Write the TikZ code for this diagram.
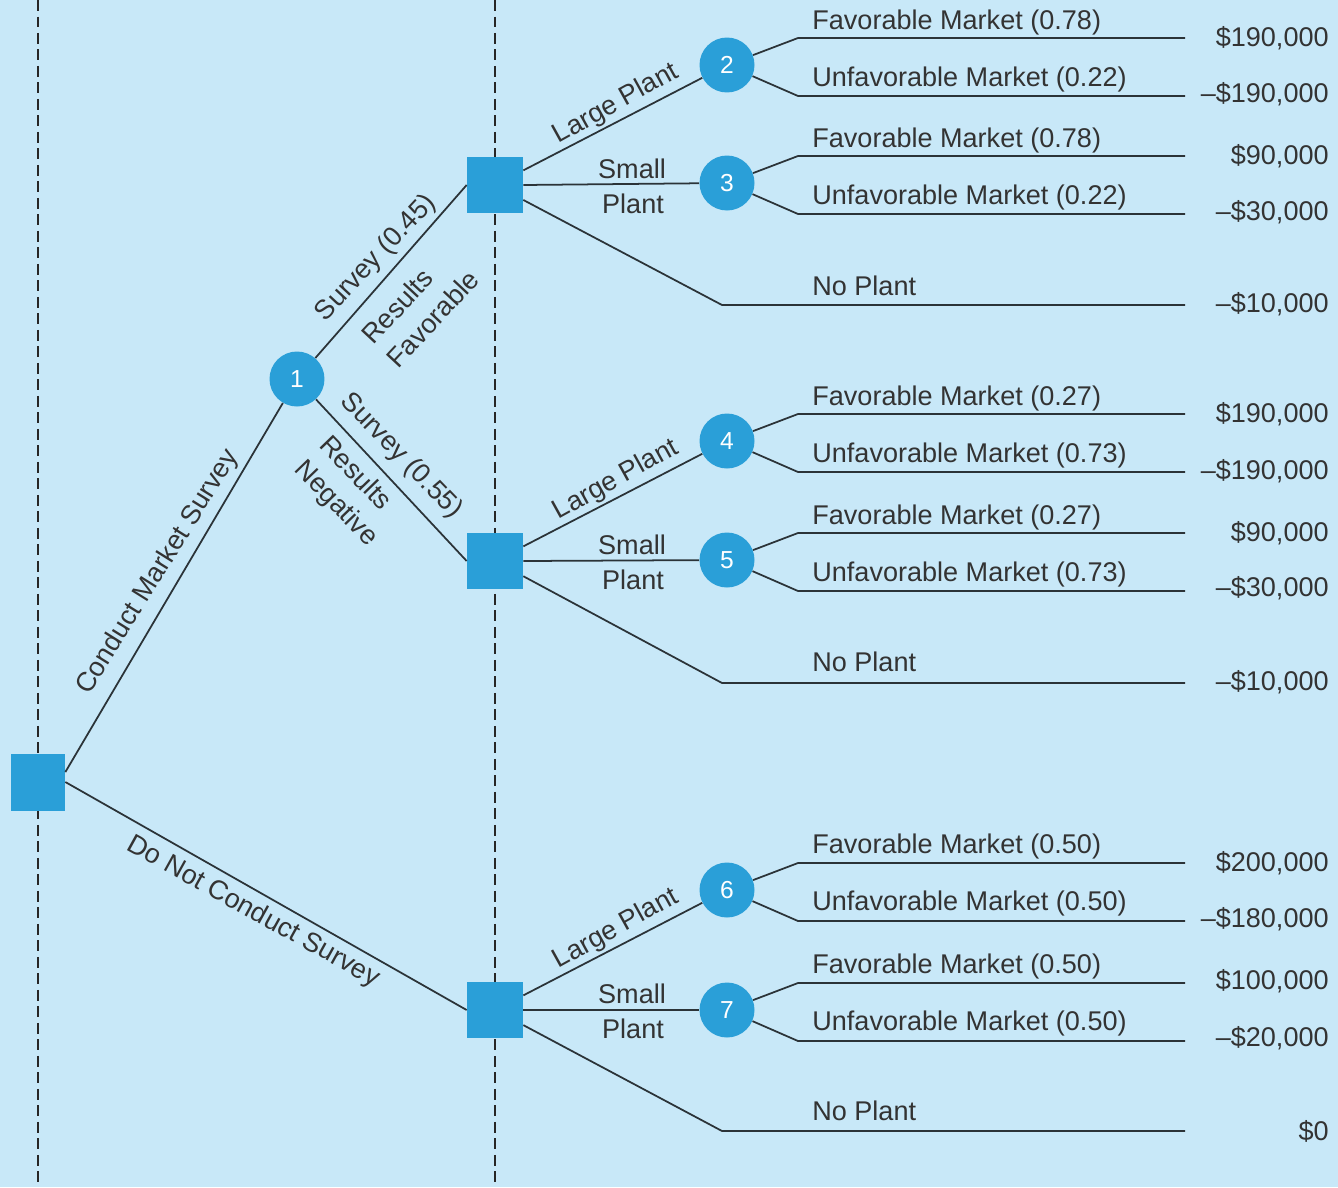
\documentclass[tikz,border=0pt]{standalone}
\usepackage{fontspec}
\setmainfont{Liberation Sans}
\definecolor{bgblue}{HTML}{C8E8F8}
\definecolor{nodeblue}{HTML}{2A9FD8}
\definecolor{ink}{HTML}{2B3338}
\definecolor{txt}{HTML}{333333}

\begin{document}
\begin{tikzpicture}[x=0.02cm,y=-0.02cm,
  decision/.style={rectangle, fill=nodeblue, minimum width=1.12cm, minimum height=1.12cm, inner sep=0pt},
  chance/.style={circle, fill=nodeblue, minimum size=1.1cm, inner sep=0pt, text=white,
                 font=\fontsize{14}{16}\selectfont},
  branch/.style={draw=ink, line width=1pt},
  stage/.style={draw=black!85, line width=1.2pt, dash pattern=on 0.22cm off 0.11cm},
  lbl/.style={text=txt, font=\fontsize{15.4}{19.5}\selectfont, inner sep=0pt},
  mkt/.style={lbl, anchor=base west},
  pay/.style={lbl, anchor=base east},
]
% background and frame
\fill[bgblue] (0,0) rectangle (1338,1187);
\useasboundingbox (0,0) rectangle (1338,1187);

% stage separators
\coordinate (s1t) at (38,0);   \coordinate (s1b) at (38,1187);
\coordinate (s2t) at (495,0);  \coordinate (s2b) at (495,1187);
\draw[stage] (s1t) -- (s1b);
\draw[stage] (s2t) -- (s2b);

% decision and chance nodes
\node[decision, minimum width=1.08cm, minimum height=1.14cm] (root) at (38,782) {};
\node[chance] (c1) at (297,379) {1};
\node[decision] (d1) at (495,185) {};
\node[decision] (d2) at (495,561) {};
\node[decision] (d3) at (495,1010) {};
\node[chance] (c2) at (727,65) {2};
\node[chance] (c3) at (727,183) {3};
\node[chance] (c4) at (727,441) {4};
\node[chance] (c5) at (727,560) {5};
\node[chance] (c6) at (727,890) {6};
\node[chance] (c7) at (727,1010) {7};

% first stage
\draw[branch] (root.20) -- (c1);
\draw[branch] (root.east) -- (d3.west);
\draw[branch] (c1) -- (d1.west);
\draw[branch] (c1) -- (d2.west);

% plant decisions
\foreach \d/\a/\b/\y in {1/2/3/305, 2/4/5/683, 3/6/7/1131}{
  \coordinate (np\d) at (722,\y);
  \coordinate (npe\d) at (1185,\y);
  \draw[branch] (d\d) -- (c\a);
  \draw[branch] (d\d.east) -- (c\b);
  \draw[branch] (d\d) -- (np\d) -- (npe\d);
}

% market outcomes
\foreach \k/\cy in {2/65, 3/183, 4/441, 5/560, 6/890, 7/1010}{
  \coordinate (f\k) at (798,\cy-27);
  \coordinate (fe\k) at (1185,\cy-27);
  \coordinate (u\k) at (798,\cy+31);
  \coordinate (ue\k) at (1185,\cy+31);
  \draw[branch] (c\k) -- (f\k) -- (fe\k);
  \draw[branch] (c\k) -- (u\k) -- (ue\k);
}

% branch labels, first stage
\node[lbl, rotate=58] (lcms) at (158,572) {Conduct Market Survey};
\node[lbl, rotate=-29] (ldnc) at (253,912) {Do Not Conduct Survey};
\node[lbl, rotate=47] (ls45) at (376,258) {Survey (0.45)};
\node[lbl, rotate=47, align=left] (lrf) at (420,307) {Results\\Favorable};
\node[lbl, rotate=-46] (ls55) at (401,456) {Survey (0.55)};
\node[lbl, rotate=-46, align=left] (lrn) at (348,492) {Results\\Negative};

% branch labels, plant size
\foreach \d/\y in {1/0, 2/376, 3/825}{
  \node[lbl, rotate=29] (lg\d) at (616,104+\y) {Large Plant};
  \node[lbl, anchor=base] (sm\d) at (632,178+\y) {Small};
  \node[lbl, anchor=base] (pl\d) at (633,213+\y) {Plant};
}

% market labels
\node[mkt] (m2f) at (812,29) {Favorable Market (0.78)};
\node[mkt] (m2u) at (812,86) {Unfavorable Market (0.22)};
\node[mkt] (m3f) at (812,147) {Favorable Market (0.78)};
\node[mkt] (m3u) at (812,204) {Unfavorable Market (0.22)};
\node[mkt] (m1n) at (812,295) {No Plant};
\node[mkt] (m4f) at (812,405) {Favorable Market (0.27)};
\node[mkt] (m4u) at (812,462) {Unfavorable Market (0.73)};
\node[mkt] (m5f) at (812,524) {Favorable Market (0.27)};
\node[mkt] (m5u) at (812,581) {Unfavorable Market (0.73)};
\node[mkt] (m2n) at (812,671) {No Plant};
\node[mkt] (m6f) at (812,853) {Favorable Market (0.50)};
\node[mkt] (m6u) at (812,910) {Unfavorable Market (0.50)};
\node[mkt] (m7f) at (812,973) {Favorable Market (0.50)};
\node[mkt] (m7u) at (812,1030) {Unfavorable Market (0.50)};
\node[mkt] (m3n) at (812,1120) {No Plant};

% payoffs
\node[pay] (p2f) at (1329,46) {\$190,000};
\node[pay] (p2u) at (1329,102) {\textendash\$190,000};
\node[pay] (p3f) at (1329,164) {\$90,000};
\node[pay] (p3u) at (1329,220) {\textendash\$30,000};
\node[pay] (p1n) at (1329,312) {\textendash\$10,000};
\node[pay] (p4f) at (1329,422) {\$190,000};
\node[pay] (p4u) at (1329,479) {\textendash\$190,000};
\node[pay] (p5f) at (1329,541) {\$90,000};
\node[pay] (p5u) at (1329,596) {\textendash\$30,000};
\node[pay] (p2n) at (1329,690) {\textendash\$10,000};
\node[pay] (p6f) at (1329,871) {\$200,000};
\node[pay] (p6u) at (1329,927) {\textendash\$180,000};
\node[pay] (p7f) at (1329,989) {\$100,000};
\node[pay] (p7u) at (1329,1046) {\textendash\$20,000};
\node[pay] (p3n) at (1329,1140) {\$0};
\end{tikzpicture}
\end{document}
